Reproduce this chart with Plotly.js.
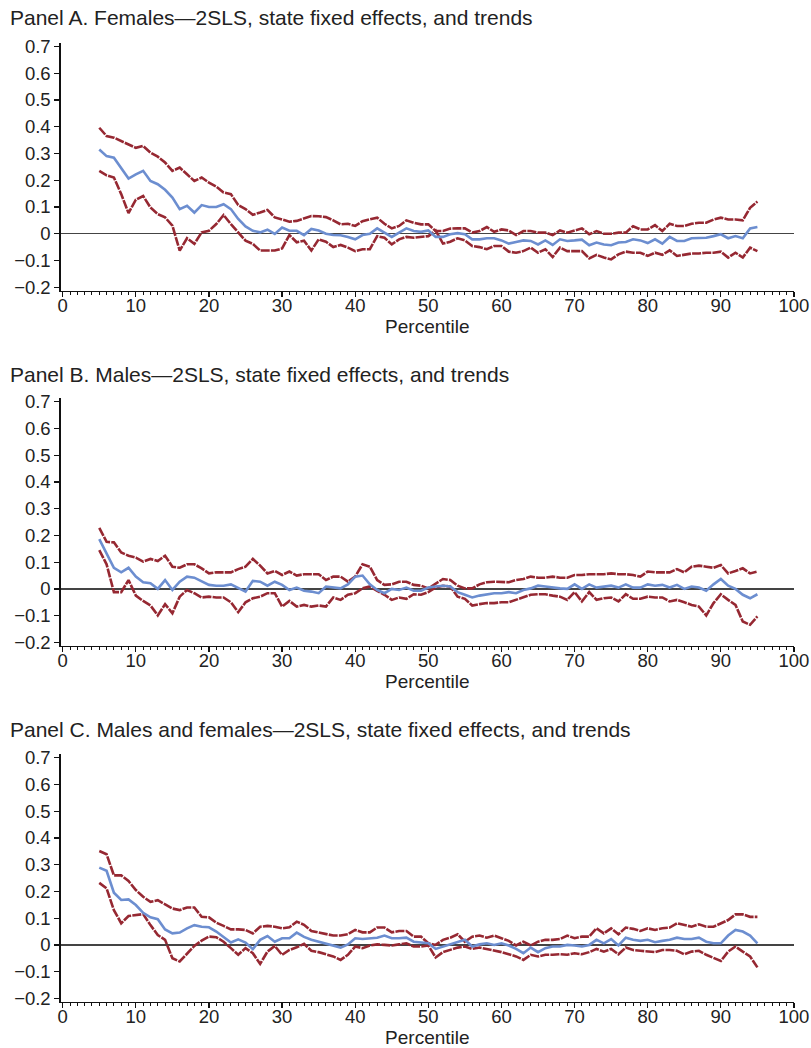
<!DOCTYPE html>
<html>
<head>
<meta charset="utf-8">
<script src="https://cdn.plot.ly/plotly-3.0.1.min.js"></script>
<style>
  body { margin: 0; background: #fff; }
  #chart { width: 811px; height: 1048px; }
</style>
</head>
<body>
<div id="chart"></div>
<script>
var percentiles = []
var p = 5
while (p <= 95) {
    percentiles.push(p)
    p += 1
}

var panelTitles = [
    "Panel A. Females\u20142SLS, state fixed effects, and trends",
    "Panel B. Males\u20142SLS, state fixed effects, and trends",
    "Panel C. Males and females\u20142SLS, state fixed effects, and trends"
];

// Panel A: females
var femaleEst = [0.315, 0.29, 0.284, 0.247, 0.206, 0.222, 0.235, 0.197, 0.185, 0.164, 0.135, 0.092, 0.104, 0.079, 0.107, 0.10, 0.10, 0.11, 0.092, 0.055, 0.027, 0.011, 0.005, 0.015, -0.001, 0.023, 0.011, 0.011, -0.005, 0.018,
    0.012, 0, -0.005, -0.006, -0.012, -0.021, -0.005, 0, 0.02, 0.004, -0.012, 0.004, 0.02, 0.01, 0.007, 0.012, -0.012, -0.012, -0.002, 0.002, -0.002, -0.021, -0.021, -0.017, -0.017, -0.025, -0.037, -0.031, -0.025, -0.027, -0.04, -0.025,
    -0.042, -0.021, -0.027, -0.025, -0.022, -0.043, -0.033, -0.04, -0.043, -0.033, -0.031, -0.021, -0.025, -0.035, -0.021, -0.037, -0.012, -0.027, -0.027, -0.017, -0.017, -0.015, -0.009, -0.002, -0.017, -0.009, -0.017, 0.02, 0.025];
var femaleHi = [0.396, 0.365, 0.359, 0.346, 0.334, 0.321, 0.328, 0.303, 0.288, 0.266, 0.235, 0.247, 0.222, 0.197, 0.21, 0.191, 0.176, 0.154, 0.148, 0.107, 0.092, 0.071, 0.079, 0.089, 0.061, 0.052, 0.045, 0.048, 0.057, 0.066,
    0.065, 0.062, 0.05, 0.035, 0.037, 0.029, 0.047, 0.053, 0.06, 0.037, 0.02, 0.029, 0.05, 0.041, 0.035, 0.035, 0.01, 0.01, 0.019, 0.02, 0.02, 0.004, 0.01, 0.025, 0.007, 0.016, 0.012, -0.005, 0.01, 0.01, 0.004, 0.004,
    -0.005, 0.012, 0.004, 0.012, 0.02, -0.002, 0.01, 0, 0, 0.004, 0.004, 0.028, 0.016, 0.016, 0.032, 0.01, 0.037, 0.029, 0.029, 0.037, 0.041, 0.041, 0.053, 0.06, 0.053, 0.053, 0.05, 0.097, 0.12];
var femaleLo = [0.235, 0.218, 0.21, 0.148, 0.077, 0.127, 0.141, 0.098, 0.073, 0.061, 0.03, -0.063, -0.017, -0.038, 0.005, 0.011, 0.036, 0.07, 0.036, 0.005, -0.026, -0.038, -0.063, -0.063, -0.063, -0.055, -0.005, -0.032, -0.026, -0.063,
    -0.021, -0.03, -0.05, -0.042, -0.052, -0.065, -0.058, -0.058, -0.009, -0.015, -0.04, -0.021, -0.012, -0.015, -0.012, -0.009, 0.012, -0.037, -0.03, -0.017, -0.025, -0.046, -0.05, -0.058, -0.046, -0.046, -0.067, -0.071, -0.065, -0.052, -0.071, -0.058,
    -0.087, -0.052, -0.065, -0.065, -0.065, -0.092, -0.079, -0.089, -0.096, -0.077, -0.067, -0.071, -0.071, -0.083, -0.071, -0.079, -0.062, -0.083, -0.079, -0.074, -0.074, -0.071, -0.071, -0.067, -0.089, -0.071, -0.089, -0.052, -0.065];

// Panel B: males
var maleEst = [0.186, 0.133, 0.079, 0.062, 0.079, 0.046, 0.025, 0.021, 0, 0.033, -0.004, 0.027, 0.046, 0.042, 0.027, 0.015, 0.012, 0.012, 0.017, 0.005, -0.01, 0.03, 0.027, 0.012, 0.027, 0.015, -0.004, 0.005, -0.007,
    -0.01, -0.016, 0.009, 0.005, 0.002, 0.017, 0.046, 0.05, 0.017, -0.004, -0.016, 0, -0.004, 0.005, -0.007, -0.007, 0.005, 0.009, 0.012, 0.009, -0.012, -0.022, -0.032, -0.025, -0.02, -0.016, -0.016, -0.012, -0.016, -0.004, 0.002, 0.012, 0.009,
    0.005, 0.002, 0, 0.017, 0, 0.017, 0.005, 0.009, 0.012, 0.005, 0.017, 0.005, 0.005, 0.017, 0.012, 0.015, 0.005, 0.015, 0, 0.009, 0.005, -0.007, 0.017, 0.037, 0.012, 0, -0.022, -0.035, -0.02];
var maleHi = [0.228, 0.176, 0.174, 0.136, 0.124, 0.117, 0.102, 0.112, 0.104, 0.124, 0.083, 0.079, 0.092, 0.092, 0.077, 0.058, 0.062, 0.062, 0.062, 0.074, 0.083, 0.112, 0.087, 0.058, 0.067, 0.052, 0.065, 0.05, 0.055,
    0.055, 0.055, 0.033, 0.046, 0.046, 0.027, 0.046, 0.092, 0.083, 0.033, 0.015, 0.017, 0.027, 0.027, 0.015, 0.012, 0.002, 0.021, 0.037, 0.033, 0.012, 0.002, 0.002, 0.017, 0.025, 0.027, 0.027, 0.025, 0.033, 0.037, 0.046, 0.042, 0.042,
    0.046, 0.042, 0.042, 0.052, 0.052, 0.055, 0.055, 0.055, 0.058, 0.055, 0.055, 0.052, 0.046, 0.065, 0.062, 0.062, 0.062, 0.074, 0.062, 0.083, 0.087, 0.083, 0.079, 0.089, 0.058, 0.067, 0.077, 0.058, 0.065];
var maleLo = [0.145, 0.092, -0.012, -0.012, 0.033, -0.025, -0.045, -0.062, -0.099, -0.057, -0.091, -0.029, -0.004, -0.016, -0.032, -0.029, -0.032, -0.032, -0.05, -0.087, -0.05, -0.035, -0.029, -0.016, -0.016, -0.066, -0.045, -0.066, -0.06,
    -0.066, -0.062, -0.066, -0.032, -0.041, -0.022, -0.016, 0.002, 0.009, -0.007, -0.022, -0.041, -0.032, -0.037, -0.02, -0.022, -0.012, 0.005, 0.012, 0.009, -0.029, -0.037, -0.062, -0.057, -0.053, -0.053, -0.05, -0.05, -0.041, -0.032, -0.022, -0.02, -0.02,
    -0.025, -0.029, -0.041, -0.012, -0.047, -0.012, -0.041, -0.035, -0.032, -0.047, -0.02, -0.037, -0.037, -0.029, -0.032, -0.032, -0.047, -0.041, -0.05, -0.06, -0.066, -0.099, -0.053, -0.02, -0.041, -0.06, -0.122, -0.134, -0.103];

// Panel C: males and females
var allEst = [0.289, 0.277, 0.195, 0.168, 0.17, 0.149, 0.12, 0.103, 0.096, 0.058, 0.043, 0.046, 0.062, 0.074, 0.068, 0.066, 0.05, 0.031, 0.009, 0.021, 0.009, -0.016, 0.019, 0.033, 0.012, 0.025, 0.025, 0.046, 0.03,
    0.019, 0.012, 0.006, -0.002, -0.01, 0.002, 0.025, 0.022, 0.025, 0.027, 0.035, 0.025, 0.025, 0.027, 0.012, 0.01, 0.006, -0.015, -0.006, 0.002, 0.012, 0.019, -0.006, 0.002, 0.006, 0, 0.006, -0.002, -0.015, -0.031, -0.01, -0.027, -0.012,
    -0.006, -0.006, 0, -0.002, -0.006, 0, 0.019, 0.006, 0.022, -0.002, 0.027, 0.019, 0.015, 0.019, 0.01, 0.015, 0.019, 0.027, 0.022, 0.022, 0.027, 0.012, 0.006, 0.006, 0.035, 0.056, 0.05, 0.035, 0.006];
var allHi = [0.351, 0.339, 0.26, 0.26, 0.239, 0.205, 0.18, 0.161, 0.167, 0.153, 0.136, 0.13, 0.14, 0.14, 0.105, 0.103, 0.083, 0.071, 0.058, 0.058, 0.056, 0.043, 0.068, 0.071, 0.068, 0.062, 0.066, 0.087, 0.075,
    0.052, 0.047, 0.04, 0.035, 0.035, 0.04, 0.056, 0.047, 0.047, 0.065, 0.065, 0.047, 0.052, 0.052, 0.031, 0.031, 0.006, 0, 0.019, 0.027, 0.04, 0.012, 0.031, 0.035, 0.027, 0.035, 0.025, 0.015, -0.002, 0.012, -0.002, 0.012, 0.019,
    0.019, 0.022, 0.035, 0.025, 0.031, 0.031, 0.062, 0.043, 0.062, 0.04, 0.065, 0.06, 0.052, 0.062, 0.056, 0.062, 0.065, 0.081, 0.074, 0.068, 0.077, 0.068, 0.068, 0.081, 0.093, 0.114, 0.114, 0.105, 0.105];
var allLo = [0.232, 0.211, 0.13, 0.081, 0.108, 0.112, 0.115, 0.074, 0.037, 0.019, -0.05, -0.062, -0.033, -0.004, 0.016, 0.031, 0.029, 0.012, -0.012, -0.037, -0.012, -0.031, -0.071, -0.025, -0.004, -0.037, -0.019, -0.009, 0.004,
    -0.022, -0.027, -0.035, -0.043, -0.056, -0.037, -0.006, -0.012, -0.002, 0.002, 0, -0.002, 0.002, 0.006, -0.006, -0.006, -0.002, -0.047, -0.027, -0.019, -0.01, -0.006, -0.015, -0.01, -0.015, -0.022, -0.027, -0.035, -0.043, -0.056, -0.037, -0.043, -0.037,
    -0.037, -0.035, -0.037, -0.031, -0.035, -0.027, -0.015, -0.025, -0.015, -0.035, -0.01, -0.019, -0.022, -0.025, -0.027, -0.019, -0.019, -0.022, -0.035, -0.025, -0.022, -0.037, -0.05, -0.06, -0.025, -0.006, -0.025, -0.043, -0.084];

var blue = 'rgb(108, 142, 208)'
var red = 'rgb(150, 40, 50)'
var font = 'Liberation Sans, Arial, Helvetica, sans-serif'

function panelTraces(n, est, hi, lo) {
    var xa = n == 1 ? 'x' : 'x' + n
    var ya = n == 1 ? 'y' : 'y' + n
    var band = { color: red, width: 2.6, dash: '9px,1.2px' }
    return [
        { type: 'scatter', mode: 'lines', x: percentiles, y: hi, xaxis: xa, yaxis: ya, line: band },
        { type: 'scatter', mode: 'lines', x: percentiles, y: lo, xaxis: xa, yaxis: ya, line: band },
        { type: 'scatter', mode: 'lines', x: percentiles, y: est, xaxis: xa, yaxis: ya, line: { color: blue, width: 2.6 } }
    ]
}

var data = [].concat(
    panelTraces(1, femaleEst, femaleHi, femaleLo),
    panelTraces(2, maleEst, maleHi, maleLo),
    panelTraces(3, allEst, allHi, allLo)
);

function xAxis(anchor) {
    return {
        anchor: anchor,
        domain: [0.0748, 0.979],
        range: [-0.28, 100],
        tick0: 0,
        dtick: 10,
        ticks: 'outside',
        ticklen: 5,
        tickwidth: 1.3,
        tickcolor: '#111',
        ticklabelstandoff: -7,
        minor: { dtick: 1, ticks: 'outside', ticklen: 3, tickwidth: 1, tickcolor: '#111' },
        showline: true,
        linecolor: '#111',
        linewidth: 1.3,
        showgrid: false,
        zeroline: false,
        tickfont: { family: font, size: 18.5, color: '#222' },
        title: { text: 'Percentile', font: { family: font, size: 19, color: '#222' }, standoff: 1 }
    }
}

function yAxis(anchor, dom) {
    return {
        anchor: anchor,
        domain: dom,
        range: [-0.213, 0.714],
        tick0: 0,
        dtick: 0.1,
        ticks: 'outside',
        ticklen: 5,
        tickwidth: 1.3,
        tickcolor: '#111',
        showline: true,
        linecolor: '#111',
        linewidth: 1.3,
        showgrid: false,
        zeroline: true,
        zerolinecolor: '#444',
        zerolinewidth: 1.5,
        tickfont: { family: font, size: 18.5, color: '#222' }
    }
}

var titleY = [0.983, 0.643, 0.304]
var annotations = []
for (let i = 0; i < panelTitles.length; i++) {
    annotations.push({
        text: panelTitles[i],
        xref: 'paper', yref: 'paper',
        x: 0.0099, y: titleY[i],
        xanchor: 'left', yanchor: 'middle',
        showarrow: false,
        font: { family: font, size: 21, color: '#222' }
    })
}

var layout = {
    width: 811,
    height: 1048,
    margin: { l: 0, r: 0, t: 0, b: 0 },
    paper_bgcolor: '#fff',
    plot_bgcolor: '#fff',
    showlegend: false,
    xaxis: xAxis('y'),
    yaxis: yAxis('x', [0.7226, 0.9593]),
    xaxis2: xAxis('y2'),
    yaxis2: yAxis('x2', [0.3837, 0.6203]),
    xaxis3: xAxis('y3'),
    yaxis3: yAxis('x3', [0.0440, 0.2806]),
    annotations: annotations
};

Plotly.newPlot('chart', data, layout, { displayModeBar: false, staticPlot: true });
</script>
</body>
</html>
